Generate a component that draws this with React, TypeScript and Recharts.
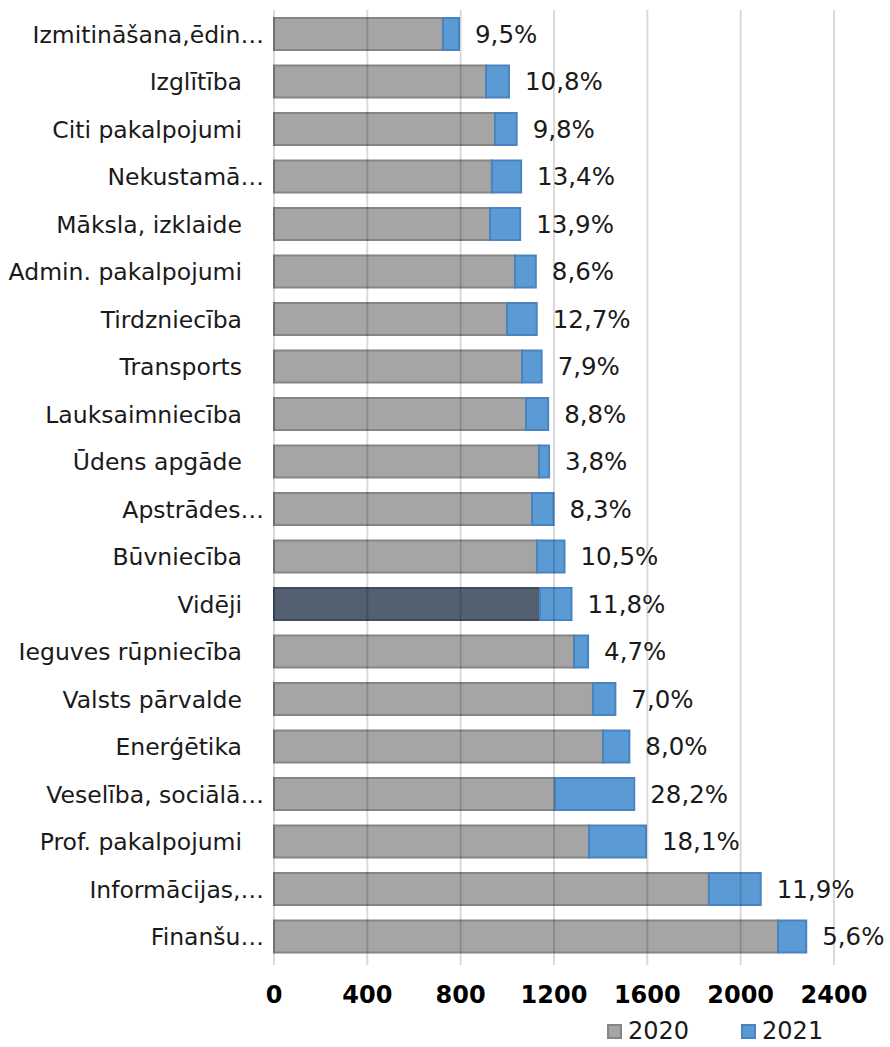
import React from 'react';
import { BarChart, Bar, XAxis, YAxis, Cell, LabelList, ReferenceLine } from 'recharts';

const categories = [
  'Izmitināšana,ēdin…', 'Izglītība', 'Citi pakalpojumi', 'Nekustamā…', 'Māksla, izklaide',
  'Admin. pakalpojumi', 'Tirdzniecība', 'Transports', 'Lauksaimniecība', 'Ūdens apgāde',
  'Apstrādes…', 'Būvniecība', 'Vidēji', 'Ieguves rūpniecība', 'Valsts pārvalde',
  'Enerģētika', 'Veselība, sociālā…', 'Prof. pakalpojumi', 'Informācijas,…', 'Finanšu…',
];
const values2020 = [724, 909, 947, 934, 926, 1033, 999, 1063, 1080, 1136, 1106, 1127, 1140, 1286, 1367, 1410, 1204, 1350, 1864, 2160];
const values2021 = [793, 1007, 1040, 1059, 1055, 1122, 1126, 1147, 1175, 1179, 1198, 1245, 1275, 1346, 1463, 1523, 1544, 1594, 2086, 2281];
const growthLabels = ['9,5%', '10,8%', '9,8%', '13,4%', '13,9%', '8,6%', '12,7%', '7,9%', '8,8%', '3,8%',
  '8,3%', '10,5%', '11,8%', '4,7%', '7,0%', '8,0%', '28,2%', '18,1%', '11,9%', '5,6%'];
const xTicks = [0, 400, 800, 1200, 1600, 2000, 2400];

const FONT = '"DejaVu Sans", Verdana, sans-serif';
const GRAY = '#A5A5A5';
const GRAY_EDGE = '#858585';
const BLUE = '#5B9BD5';
const BLUE_EDGE = '#4A83C0';
const AVG = '#526072';

const data = categories.map((name, i) => ({
  name,
  base: values2020[i],
  growth: values2021[i] - values2020[i],
  label: growthLabels[i],
}));

// truncated names sit a bit further right, like in the original
const CategoryTick = ({ x, y, payload }: any) => {
  const cut = String(payload.value).endsWith('…');
  return (
    <text x={x - (cut ? 2 : 24)} y={y} dy={9} textAnchor="end" fontSize={23.5} fill="#1a1a1a" fontFamily={FONT}>
      {payload.value}
    </text>
  );
};

const App: React.FC = () => {
  return (
    <div style={{ position: 'absolute', left: 0, top: 0, width: 890, height: 1047, background: '#fff', fontFamily: FONT, overflow: 'hidden' }}>
      <BarChart
        width={890}
        height={1047}
        data={data}
        layout="vertical"
        margin={{ top: 10, right: 56, bottom: 37, left: 0 }}
        barSize={32}
      >
        <XAxis
          type="number"
          domain={[0, 2400]}
          ticks={xTicks}
          axisLine={false}
          tickLine={{ stroke: '#D9D9D9', strokeWidth: 2 }}
          tickSize={5}
          height={50}
          tick={{ fontSize: 24, fontWeight: 'bold', fill: '#000', fontFamily: FONT, dy: 19 }}
        />
        <YAxis
          type="category"
          dataKey="name"
          width={274}
          axisLine={false}
          tickLine={false}
          interval={0}
          tick={<CategoryTick />}
        />
        <Bar dataKey="base" stackId="a" fill={GRAY} stroke={GRAY_EDGE} strokeWidth={2} isAnimationActive={false}>
          {data.map((d, i) => (
            <Cell key={`c-${i}`} fill={d.name === 'Vidēji' ? AVG : GRAY} stroke={d.name === 'Vidēji' ? '#414D5C' : GRAY_EDGE} />
          ))}
        </Bar>
        <Bar dataKey="growth" stackId="a" fill={BLUE} stroke={BLUE_EDGE} strokeWidth={2} isAnimationActive={false}>
          <LabelList dataKey="label" position="right" offset={16} fontSize={24.5} fill="#1a1a1a" fontFamily={FONT} />
        </Bar>
        {xTicks.map((t) => (
          <ReferenceLine key={`g-${t}`} x={t} stroke="#000" strokeOpacity={0.15} strokeWidth={2} />
        ))}
      </BarChart>
      <div style={{ position: 'absolute', top: 1019, left: 607, display: 'flex', alignItems: 'center', fontSize: 24, color: '#1a1a1a', lineHeight: '24px' }}>
        <span style={{ width: 11, height: 11, background: GRAY, border: `2px solid ${GRAY_EDGE}`, marginRight: 6 }} />
        <span style={{ marginRight: 52 }}>2020</span>
        <span style={{ width: 11, height: 11, background: BLUE, border: `2px solid ${BLUE_EDGE}`, marginRight: 6 }} />
        <span>2021</span>
      </div>
    </div>
  );
};

export default App;
